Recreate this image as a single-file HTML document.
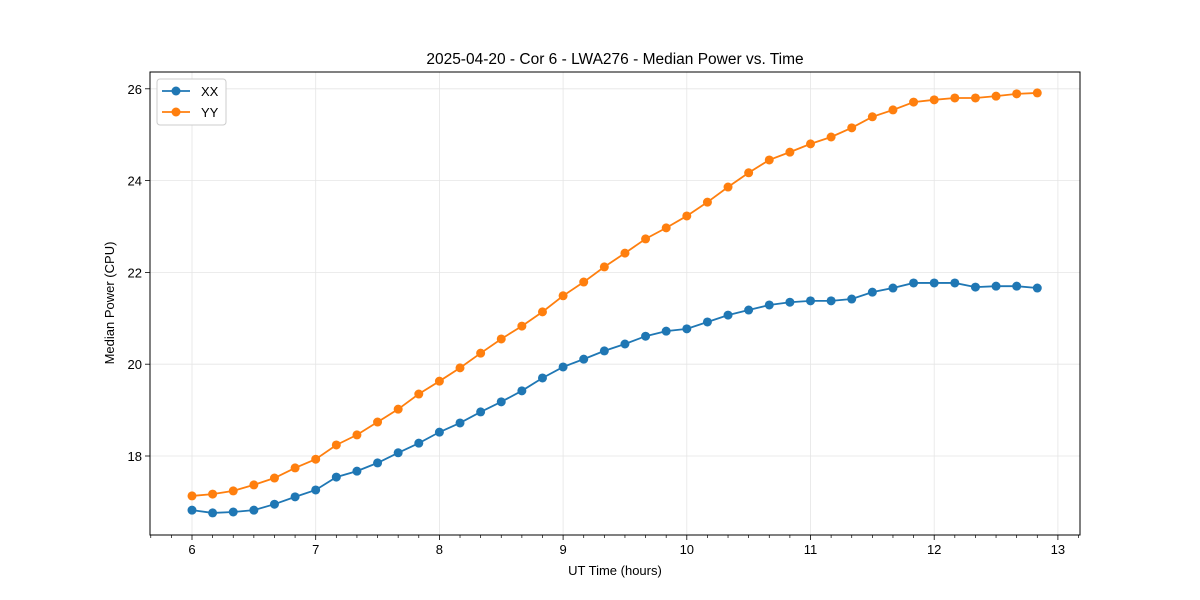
<!DOCTYPE html>
<html><head><meta charset="utf-8"><style>
body{margin:0;background:#fff}
svg{display:block;font-family:"Liberation Sans","DejaVu Sans",sans-serif}
</style></head><body>
<svg id="c" width="1200" height="600">
<rect width="1200" height="600" fill="#fff"/>
<g id="grid"></g><g id="axes"></g><g id="series"></g>
<text x="615" y="64" font-size="15.5" text-anchor="middle">2025-04-20 - Cor 6 - LWA276 - Median Power vs. Time</text>
<text x="615" y="575" font-size="13" text-anchor="middle">UT Time (hours)</text>
<text transform="translate(114,303) rotate(-90)" font-size="13" text-anchor="middle">Median Power (CPU)</text>
<g>
<rect x="157" y="79" width="69" height="46" rx="3" fill="#fff" stroke="#ccc"/>
<g><line x1="162" y1="91" x2="190" y2="91" stroke="#1f77b4" stroke-width="1.8"/><circle cx="176" cy="91" r="4.5" fill="#1f77b4"/><text x="201" y="96" font-size="13">XX</text></g>
<g><line x1="162" y1="112" x2="190" y2="112" stroke="#ff7f0e" stroke-width="1.8"/><circle cx="176" cy="112" r="4.5" fill="#ff7f0e"/><text x="201" y="117" font-size="13">YY</text></g>
</g>
</svg>
<script>
const xx=[16.82,16.76,16.78,16.82,16.95,17.11,17.26,17.54,17.67,17.85,18.07,18.28,18.52,18.72,18.96,19.18,19.42,19.70,19.94,20.11,20.29,20.44,20.61,20.72,20.77,20.92,21.07,21.18,21.29,21.35,21.38,21.38,21.42,21.57,21.66,21.77,21.77,21.77,21.68,21.70,21.70,21.66];
const yy=[17.13,17.17,17.24,17.37,17.52,17.74,17.93,18.24,18.46,18.74,19.02,19.35,19.63,19.92,20.24,20.55,20.83,21.14,21.49,21.79,22.12,22.42,22.73,22.97,23.23,23.53,23.86,24.17,24.45,24.62,24.80,24.95,25.15,25.39,25.54,25.71,25.76,25.80,25.80,25.84,25.89,25.91];
const times=xx.map((_,i)=>6+i/6);
const xTicks=[6,7,8,9,10,11,12,13];
const yTicks=[18,20,22,24,26];
const L=150,R=1080,T=72,B=535;
const X=v=>192+(v-6)*123.7;
const Y=v=>456-(v-18)*45.9;
const NS='http://www.w3.org/2000/svg';
function mk(p,tag,at){const e=document.createElementNS(NS,tag);for(const k in at)e.setAttribute(k,at[k]);p.appendChild(e);return e;}
const grid=document.getElementById('grid'),axes=document.getElementById('axes'),ser=document.getElementById('series');
xTicks.forEach(t=>{const x=X(t);
const g=mk(grid,'line',{x1:x,x2:x,y1:T,y2:B,stroke:'#e5e5e5','stroke-width':0.8});


mk(axes,'line',{x1:x,x2:x,y1:B,y2:B+5,stroke:'#000','stroke-width':0.8});
const tx=mk(axes,'text',{x:x,y:B+19,'font-size':13,'text-anchor':'middle'});tx.textContent=t;

});
for(let k=-3;k<=43;k++){const x=X(6+k/6);if(k%6===0||x<L||x>R)continue;mk(axes,'line',{x1:x,x2:x,y1:B,y2:B+3,stroke:'#000','stroke-width':0.7});}
yTicks.forEach(t=>{const y=Y(t);
const g=mk(grid,'line',{x1:L,x2:R,y1:y,y2:y,stroke:'#e5e5e5','stroke-width':0.8});


mk(axes,'line',{x1:L-5,x2:L,y1:y,y2:y,stroke:'#000','stroke-width':0.8});
const tx=mk(axes,'text',{x:L-8,y:y+5,'font-size':13,'text-anchor':'end'});tx.textContent=t;

});
const fr=mk(axes,'rect',{x:L,y:T,width:R-L,height:B-T,fill:'none',stroke:'#000','stroke-width':1});


[[xx,'#1f77b4','xx'],[yy,'#ff7f0e','yy']].forEach(([d,c,n])=>{
const pl=mk(ser,'polyline',{points:d.map((v,i)=>X(times[i])+','+Y(v)).join(' '),fill:'none',stroke:c,'stroke-width':1.8});


d.forEach((v,i)=>{const p=mk(ser,'circle',{cx:X(times[i]),cy:Y(v),r:4.5,fill:c});

});});
</script>
</body></html>
